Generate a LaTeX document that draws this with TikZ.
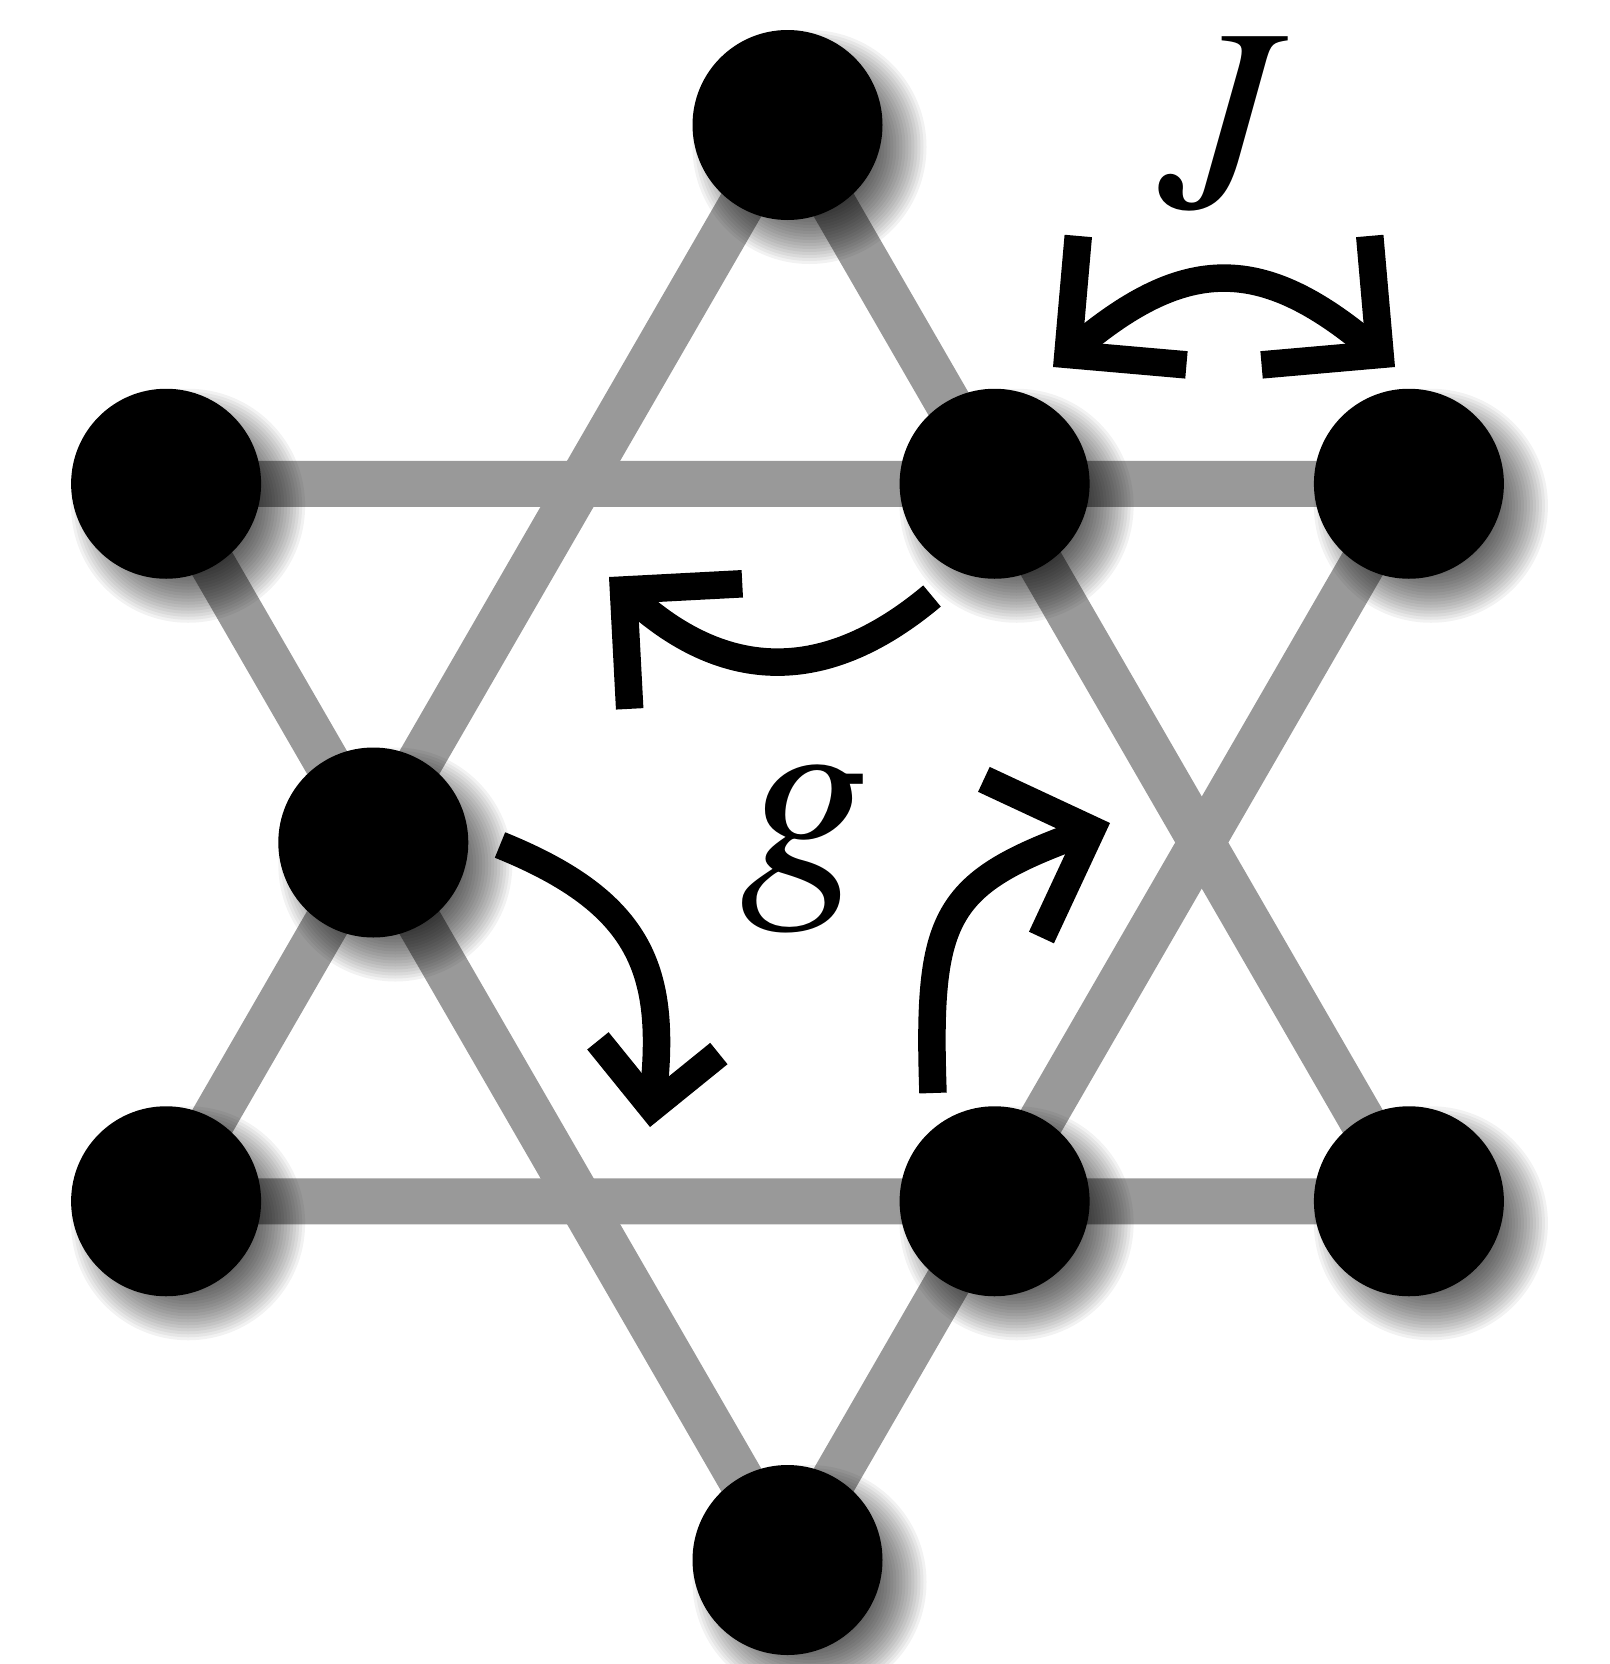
\documentclass[tikz,border=0pt]{standalone}
\usepackage{mathptmx}
\usetikzlibrary{arrows.meta,backgrounds}
\definecolor{bondGray}{HTML}{999999}

\begin{document}
\begin{tikzpicture}[
        x=0.1mm, y=0.1mm,
        site/.style={circle, fill=black, minimum size=19mm, inner sep=0pt},
        bond/.style={bondGray, line width=4.6mm},
        haze/.style={fill=black, opacity=0.05},
        spin/.style={line width=2.75mm, -{Straight Barb[angle=90:11.9mm]}},
        spinsmall/.style={line width=2.75mm, -{Straight Barb[angle=90:8.6mm]}},
        lbl/.style={font=\fontsize{74}{80}\selectfont, inner sep=0pt},
    ]
        \useasboundingbox (0,0) rectangle (1610,-1664);

        % sites of the star
        \node[site] (top) at (787.5,-125) {};
        \node[site] (ul) at (166.1,-483.75) {};
        \node[site] (ui) at (994.6,-483.75) {};
        \node[site] (ur) at (1408.9,-483.75) {};
        \node[site] (ml) at (373.3,-842.5) {};
        \node[site] (ll) at (166.1,-1201.25) {};
        \node[site] (li) at (994.6,-1201.25) {};
        \node[site] (lr) at (1408.9,-1201.25) {};
        \node[site] (bot) at (787.5,-1560) {};

        \begin{scope}[on background layer]
            \draw[bond] (top.center) -- (ll.center) -- (lr.center) -- cycle;
            \draw[bond] (ul.center) -- (ur.center) -- (bot.center) -- cycle;
            % soft shadows
            \foreach \n in {top,ul,ui,ur,ml,ll,li,lr,bot}
                \foreach \r in {6.0,6.3,...,12.0}
                    \fill[haze] ([shift={(22,-22)}]\n.center) circle (\r mm);
        \end{scope}

        % J
        \coordinate (ja) at (1053,-367);
        \coordinate (jb) at (1395,-367);
        \draw[line width=2.75mm, {Straight Barb[angle=90:11.9mm]}-{Straight Barb[angle=90:11.9mm]}]
            (ja) to[bend left=40, looseness=1.3] (jb);
        \node[lbl] (jtxt) at (1224,-124) {$J$};

        % g
        \coordinate (g1a) at (932,-596);
        \coordinate (g1b) at (609,-577);
        \coordinate (g2a) at (500,-845);
        \coordinate (g2b) at (650,-1127);
        \coordinate (g3a) at (933,-1093);
        \coordinate (g3b) at (1110,-823);
        \draw[spin] (g1a) to[out=220, in=-42, looseness=1.17] (g1b);
        \draw[spinsmall] (g2a) to[out=-22, in=84, looseness=1.24] (g2b);
        \draw[spin] (g3a) to[out=92, in=200, looseness=1.4] (g3b);
        \node[lbl] (gtxt) at (806,-850) {$g$};
    \end{tikzpicture}
\end{document}
